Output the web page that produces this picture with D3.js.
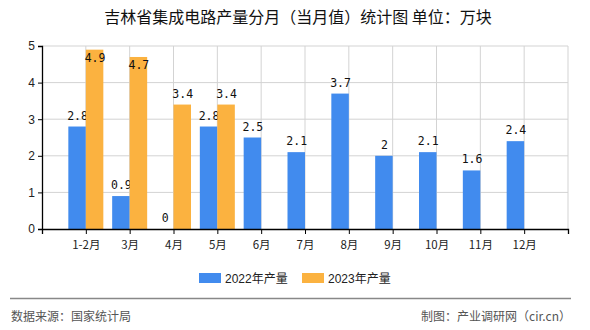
<!DOCTYPE html>
<html><head><meta charset="utf-8">
<script src="https://cdn.jsdelivr.net/npm/d3@7"></script>
<style>body{margin:0;background:#fff}svg{display:block}</style>
</head><body><svg id="c" width="590" height="330"></svg>
<script>
const categories = ["1-2月","3月","4月","5月","6月","7月","8月","9月","10月","11月","12月"];
const values2022 = [2.8,0.9,0,2.8,2.5,2.1,3.7,2,2.1,1.6,2.4];
const values2023 = [4.9,4.7,3.4,3.4,null,null,null,null,null,null,null];
const seriesNames = ["2022年产量","2023年产量"];
const yTicks = [0,1,2,3,4,5];
const colors = ["#418BEE","#FBB240"];

const svg = d3.select("#c");
const L=42,R=568,T=46,B=229;
const x = d3.scaleLinear().domain([0, categories.length+1]).range([L,R]);
const y = d3.scaleLinear().domain([0,5]).range([B,T]);
const bw = 17.5;

// grid
const g = svg.append("g");
g.selectAll(".hg").data(yTicks.filter(d=>d>0)).enter().append("line")
 .attr("x1",L).attr("x2",R).attr("y1",d=>y(d)).attr("y2",d=>y(d)).attr("stroke","#d3d3d3");
g.selectAll(".vg").data(d3.range(1,categories.length+2)).enter().append("line")
 .attr("x1",d=>x(d)).attr("x2",d=>x(d)).attr("y1",T).attr("y2",B).attr("stroke","#d3d3d3");

// bars
const data = categories.map((c,i)=>({c,i,v:[values2022[i],values2023[i]]}));
[0,1].forEach(s=>{
  const sd = data.filter(d=>d.v[s]!=null);
  svg.append("g").selectAll("rect").data(sd).enter().append("rect")
   .attr("x",d=>x(d.i+1)+(s===0?-bw:0)).attr("width",bw)
   .attr("y",d=>y(d.v[s])).attr("height",d=>B-y(d.v[s])).attr("fill",colors[s]);
  svg.append("g").selectAll("text").data(sd).enter().append("text")
   .attr("x",d=>x(d.i+1)+(s===0?-bw/2:bw/2)+0.5)
   .attr("y",d=>{const t=y(d.v[s]); return (t-11<T)? t+12 : t-7;})
   .attr("text-anchor","middle").attr("font-family","DejaVu Sans Mono, monospace")
   .attr("font-size",11.5).attr("fill","#111").text(d=>d.v[s]);
});

// axes
const xa = svg.append("g").attr("transform",`translate(0,${B})`)
 .call(d3.axisBottom(x).tickValues(d3.range(0,categories.length+2)).tickSize(5)
   .tickFormat(d=>(d>=1&&d<=categories.length)?categories[d-1]:""));
xa.select(".domain").attr("stroke","#000").attr("stroke-width",1.3);
xa.selectAll(".tick line").attr("stroke","#000");
xa.selectAll("text").attr("font-family","Noto Sans CJK SC").attr("font-size",11.5).attr("fill","#222").attr("dy","1.0em");
const ya = svg.append("g").attr("transform",`translate(${L},0)`)
 .call(d3.axisLeft(y).tickValues(yTicks).tickSize(4).tickFormat(d3.format("d")));
ya.select(".domain").attr("stroke","#000").attr("stroke-width",1.3);
ya.selectAll(".tick line").attr("stroke","#000");
ya.selectAll("text").attr("font-family","Liberation Sans, Arial").attr("font-size",12).attr("fill","#222").attr("x",-7);

// title
svg.append("text").attr("x",298).attr("y",23).attr("text-anchor","middle")
 .attr("font-family","Noto Sans CJK SC").attr("font-size",16).attr("font-weight",400).attr("fill","#111")
 .text("吉林省集成电路产量分月（当月值）统计图 单位：万块");

// legend
const lg = svg.append("g");
const lx=[199,302];
seriesNames.forEach((n,i)=>{
  lg.append("rect").attr("x",lx[i]).attr("y",273).attr("width",22).attr("height",10).attr("fill",colors[i]);
  lg.append("text").attr("x",lx[i]+26).attr("y",282.5).attr("font-family","Liberation Sans, Noto Sans CJK SC")
   .attr("font-size",12).attr("fill","#222").text(n);
});

// footer
svg.append("line").attr("x1",10).attr("x2",571).attr("y1",298.5).attr("y2",298.5).attr("stroke","#888").attr("stroke-width",1.3);
svg.append("text").attr("x",11).attr("y",321).attr("font-family","Noto Sans CJK SC").attr("font-size",12).attr("fill","#555").text("数据来源：国家统计局");
svg.append("text").attr("x",571).attr("y",321).attr("text-anchor","end").attr("font-family","Noto Sans CJK SC").attr("font-size",12).attr("fill","#555").text("制图：产业调研网（cir.cn）");
</script></body></html>
